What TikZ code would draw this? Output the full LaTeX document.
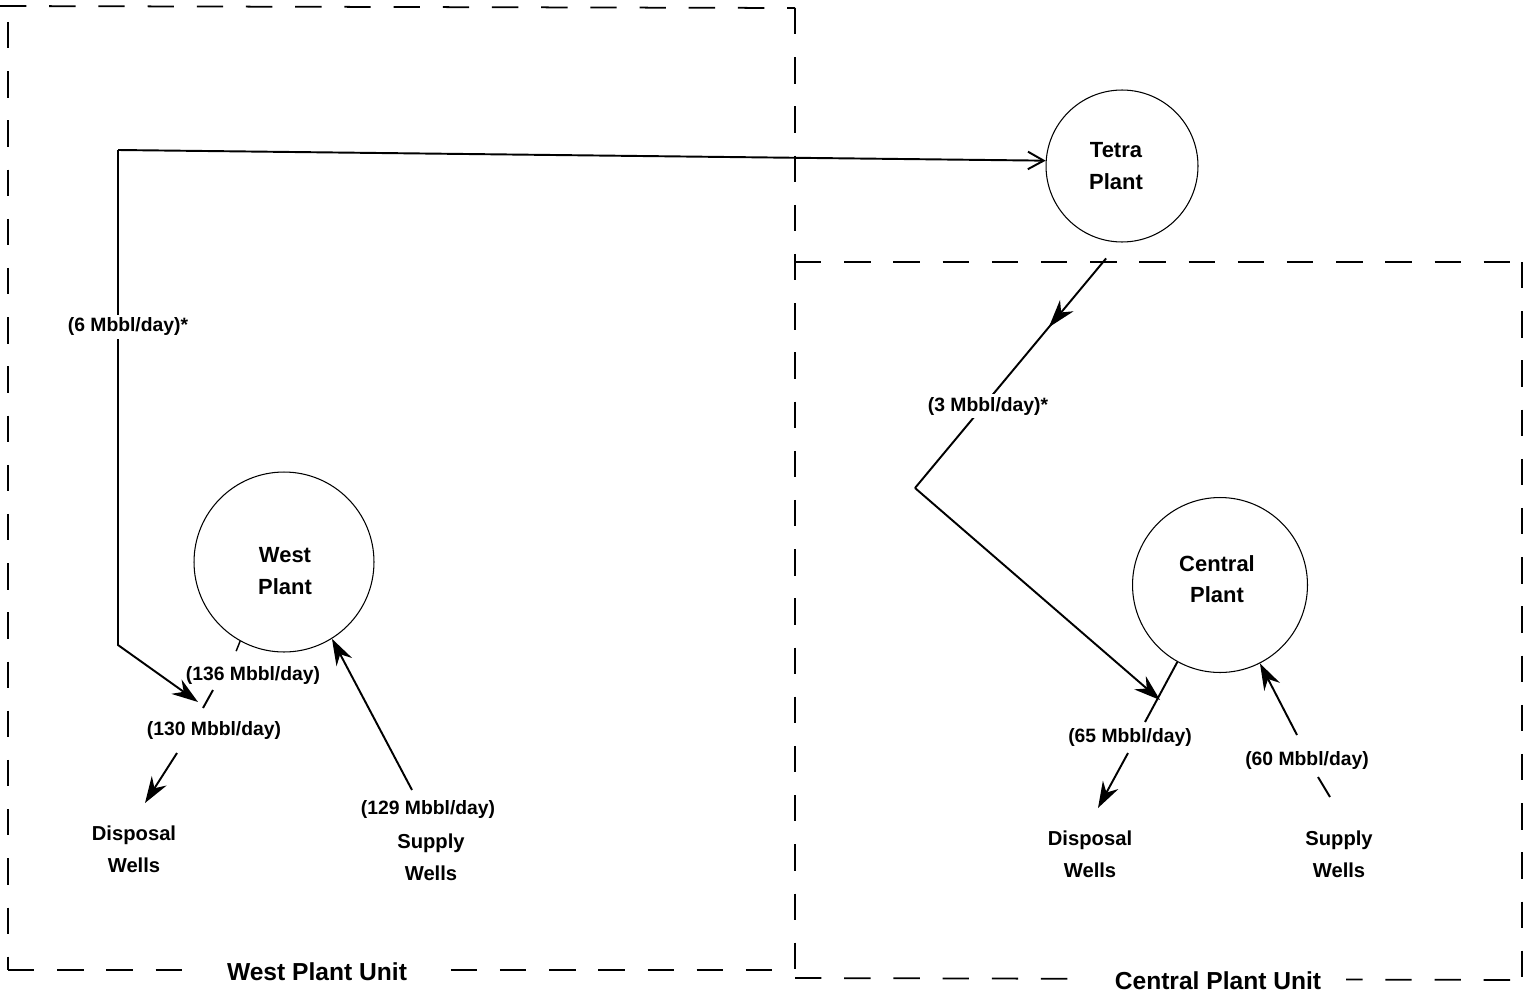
\documentclass[tikz,border=0pt]{standalone}
\usepackage{fontspec}
\setmainfont{Liberation Sans}
\usetikzlibrary{arrows.meta,decorations.markings}
\begin{document}
\begin{tikzpicture}[x=0.02cm,y=-0.02cm,
  bnd/.style={line width=1pt, dash pattern=on 15pt off 13pt},
  plantnode/.style={circle, draw, line width=0.6pt, inner sep=0pt},
  plantname/.style={align=center, inner sep=0pt, font=\fontsize{12.5}{18}\selectfont\bfseries},
  flow/.style={line width=1.1pt},
  tip/.style={-{Stealth[length=15pt,width=10pt,inset=5pt]}},
  barb/.style={-{Straight Barb[length=9pt,width=10pt]}},
  lbl/.style={font=\fontsize{11}{13}\selectfont\bfseries, inner sep=1.5pt},
  wlbl/.style={lbl, fill=white},
  wells/.style={align=center, font=\fontsize{11.5}{18}\selectfont\bfseries, inner sep=1pt},
  unitlbl/.style={font=\fontsize{14}{16}\selectfont\bfseries, fill=white, inner ysep=3pt},
  midtip/.style={postaction={decorate}, decoration={markings,
    mark=at position #1 with {\arrow{Stealth[length=16pt,width=10pt,inset=5pt]}}}}
]
\useasboundingbox (0,0) rectangle (1527,997);

% unit boundaries
\draw[bnd] (0,6) -- (795,8);
\draw[bnd] (8,22) -- (8,970);
\draw[bnd] (795,8) -- (795,970);
\draw[bnd] (8,970) -- (795,970);
\draw[bnd] (795,262) -- (1522,262);
\draw[bnd] (1522,262) -- (1522,980);
\draw[bnd] (795,978) -- (1522,980);
\node[unitlbl, inner xsep=22pt] (wpu) at (317,972) {West Plant Unit};
\node[unitlbl, inner xsep=14pt] (cpu) at (1218,981) {Central Plant Unit};

% plants
\node[plantnode, minimum size=3.04cm] (tetra) at (1122,166) {};
\node[plantname] (tetraname) at (1116,166) {Tetra\\Plant};
\node[plantnode, minimum size=3.6cm] (west) at (284,562) {};
\node[plantname] (westname) at (285,571) {West\\Plant};
\node[plantnode, minimum size=3.5cm] (central) at (1220,585) {};
\node[plantname] (centralname) at (1217,579) {Central\\Plant};

% wells
\node[wells] (wdisp) at (134,849) {Disposal\\Wells};
\node[wells] (wsup) at (431,857) {Supply\\Wells};
\node[wells] (cdisp) at (1090,854) {Disposal\\Wells};
\node[wells] (csup) at (1339,854) {Supply\\Wells};

% coordinates
\coordinate (c1) at (118,150);
\coordinate (c2) at (118,645);
\coordinate (j1) at (198,702);
\coordinate (t1) at (203,708);
\coordinate (t2) at (213,690);
\coordinate (d1s) at (177,753);
\coordinate (d1e) at (145,803);
\coordinate (s1) at (412,790);
\coordinate (j2) at (915,488);
\coordinate (c3) at (1160,700);
\coordinate (o2) at (1145,722);
\coordinate (d2s) at (1128,753);
\coordinate (d2e) at (1098,808);
\coordinate (s2) at (1297,735);
\coordinate (k1) at (1318,777);
\coordinate (k2) at (1330,797);

% west flows
\draw[flow,barb] (c1) -- (tetra.176);
\draw[flow,tip] (c1) -- (c2) -- (j1);
\draw[flow] (t1) -- (t2);
\draw[line width=0.8pt] (west.241) -- ++(-4,10);
\draw[flow,tip] (d1s) -- (d1e);
\draw[flow,tip] (s1) -- (west.302);
\node[wlbl] (l6) at (128,327) {(6 Mbbl/day)*};
\node[lbl] (l136) at (253,675) {(136 Mbbl/day)};
\node[lbl] (l130) at (214,730) {(130 Mbbl/day)};
\node[lbl] (l129) at (428,809) {(129 Mbbl/day)};

% central flows
\draw[flow,midtip=0.3] ([yshift=-10]tetra.258) -- (j2);
\draw[flow,tip] (j2) -- (c3);
\draw[flow] (central.241) -- (o2);
\draw[flow,tip] (d2s) -- (d2e);
\draw[flow,tip] (s2) -- (central.297);
\draw[flow] (k1) -- (k2);
\node[wlbl] (l3) at (988,406) {(3 Mbbl/day)*};
\node[lbl] (l65) at (1130,737) {(65 Mbbl/day)};
\node[lbl] (l60) at (1307,760) {(60 Mbbl/day)};
\end{tikzpicture}
\end{document}
